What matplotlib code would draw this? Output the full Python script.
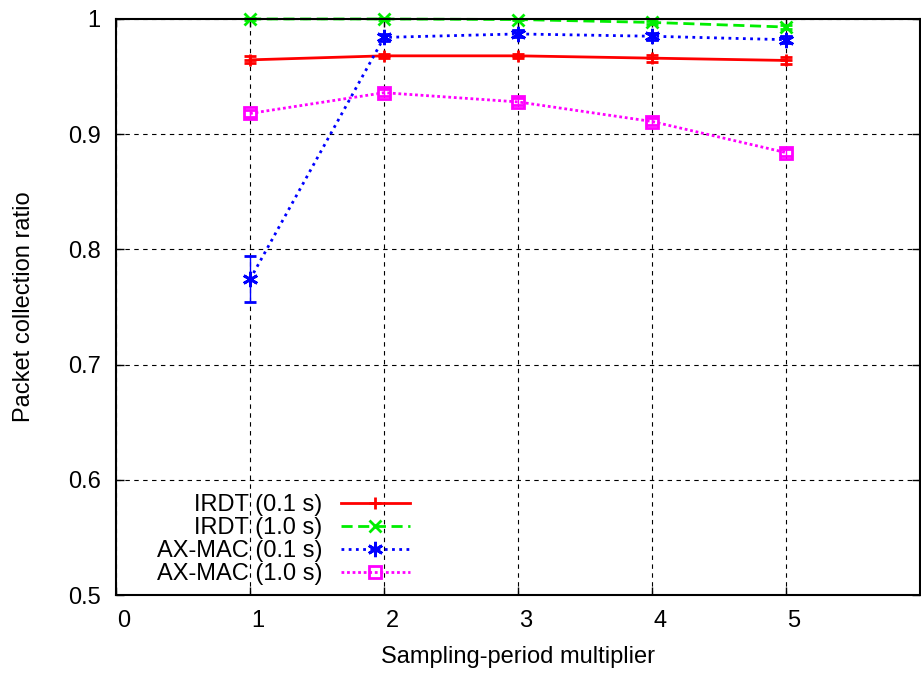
import matplotlib
matplotlib.use("Agg")
from matplotlib import pyplot as plt
from matplotlib.lines import Line2D
from matplotlib.transforms import ScaledTranslation

# sampling-period multiplier
multiplier = [1, 2, 3, 4, 5]

irdt_01 = [0.9645, 0.968, 0.968, 0.966, 0.964]
irdt_01_err = [0.003, 0.002, 0.002, 0.003, 0.003]
irdt_10 = [1.0, 1.0, 0.9995, 0.997, 0.993]
irdt_10_err = [0.0005, 0.0005, 0.0005, 0.001, 0.002]
axmac_01 = [0.774, 0.984, 0.987, 0.985, 0.982]
axmac_01_err = [0.020, 0.003, 0.003, 0.003, 0.003]
axmac_10 = [0.918, 0.936, 0.928, 0.911, 0.884]
axmac_10_err = [0.003, 0.003, 0.003, 0.003, 0.003]

plt.rcParams['font.family'] = ['Liberation Sans', 'DejaVu Sans']
plt.rcParams['font.size'] = 17

fig = plt.figure(figsize=(9.21, 6.75), dpi=100)
ax = fig.add_axes([0.126, 0.1185, 0.873, 0.8534])

series = [
    ("IRDT (0.1 s)", irdt_01, irdt_01_err, "#ff0000", "-", "+", "full", 9),
    ("IRDT (1.0 s)", irdt_10, irdt_10_err, "#00ee00", (0, (4, 2)), "x", "full", 9),
    ("AX-MAC (0.1 s)", axmac_01, axmac_01_err, "#0000ff", (0, (1, 1.6)), (6, 2, 0), "full", 11),
    ("AX-MAC (1.0 s)", axmac_10, axmac_10_err, "#ff00ff", (0, (1, 1)), "s", "none", 9),
]
handles = []
for label, vals, err, color, ls, mk, fill, size in series:
    ax.errorbar(multiplier, vals, yerr=err, color=color, ls=ls, lw=2,
                marker=mk, ms=size, mew=2, fillstyle=fill,
                capsize=4, elinewidth=1, capthick=1, clip_on=False)
    handles.append(Line2D([], [], color=color, ls=ls, lw=2, marker=mk,
                          ms=size, mew=2, fillstyle=fill, label=label))

ax.set_xlim(0, 6)
ax.set_ylim(0.5, 1.0)
ax.set_xticks([0, 1, 2, 3, 4, 5])
ax.set_yticks([0.5, 0.6, 0.7, 0.8, 0.9, 1.0])
ax.set_yticklabels(["0.5", "0.6", "0.7", "0.8", "0.9", "1"])
ax.tick_params(direction='in', length=6, top=True, right=True, width=1)
ax.tick_params(axis='y', pad=11)
ax.tick_params(axis='x', pad=11)
# gnuplot puts the x tick labels a little to the right of the ticks
shift = ScaledTranslation(0.08, 0, fig.dpi_scale_trans)
for lbl in ax.get_xticklabels():
    lbl.set_transform(lbl.get_transform() + shift)
ax.grid(True, color='black', ls=(0, (4, 4)), lw=0.8)
for s in ax.spines.values():
    s.set_linewidth(1.5)

ax.set_xlabel("Sampling-period multiplier", labelpad=10)
ax.set_ylabel("Packet collection ratio", labelpad=24)

ax.legend(handles=handles, loc='lower left', bbox_to_anchor=(0.03, -0.012),
          frameon=False, markerfirst=False, handlelength=2.9,
          labelspacing=0.05, handletextpad=0.8, borderaxespad=0.3)

fig.savefig("out.png", dpi=100)
